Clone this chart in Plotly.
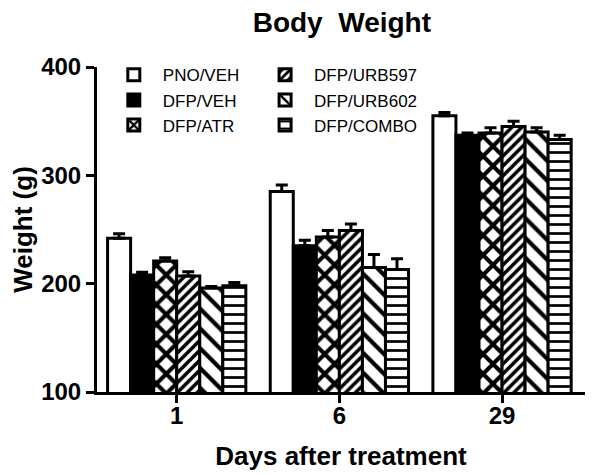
import plotly.graph_objects as go

# dias apos o tratamento
dias = ["1", "6", "29"]

grupos = ["PNO/VEH", "DFP/VEH", "DFP/ATR", "DFP/URB597", "DFP/URB602", "DFP/COMBO"]

pno_veh = [242, 285, 355]
dfp_veh = [208, 235, 337]
dfp_atr = [221, 243, 339]
dfp_urb597 = [207, 249, 345]
dfp_urb602 = [196, 215, 340]
dfp_combo = [198, 213, 333]

erro_pno_veh = [4, 6, 3]
erro_dfp_veh = [2.5, 5, 2]
erro_dfp_atr = [3, 6, 5]
erro_dfp_urb597 = [4, 6, 5]
erro_dfp_urb602 = [1.5, 12, 4]
erro_dfp_combo = [3, 10, 4]

medias = [pno_veh, dfp_veh, dfp_atr, dfp_urb597, dfp_urb602, dfp_combo]
erros = [erro_pno_veh, erro_dfp_veh, erro_dfp_atr, erro_dfp_urb597, erro_dfp_urb602, erro_dfp_combo]


def hachura(forma, tam, solidez):
    return dict(shape=forma, size=tam, solidity=solidez, fgcolor="black", bgcolor="white",
                fgopacity=1, fillmode="overlay")


# estilo de cada barra (cor de fundo, hachura)
estilos = [
    dict(color="white"),
    dict(color="black"),
    dict(color="white", pattern=hachura("x", 14, 0.5)),
    dict(color="white", pattern=hachura("/", 7, 0.5)),
    dict(color="white", pattern=hachura("\\", 14, 0.3)),
    dict(color="white", pattern=hachura("-", 9, 0.3)),
]

FONTE = "Arial, Liberation Sans, sans-serif"
NEGRITO = dict(family=FONTE, color="black", weight="bold")

fig = go.Figure()
for i, (nome, media, erro, estilo) in enumerate(zip(grupos, medias, erros, estilos)):
    fig.add_trace(go.Bar(
        x=dias, y=media, name=nome,
        marker=dict(line=dict(color="black", width=3), **estilo),
        error_y=dict(type="data", array=erro, arrayminus=[0] * len(erro), symmetric=False,
                     color="black", thickness=3, width=6),
        legend="legend" if i < 3 else "legend2",
    ))

legenda = dict(bgcolor="rgba(0,0,0,0)", font=dict(family=FONTE, size=17, color="black"),
               yanchor="top", y=1.03, xanchor="left", itemwidth=48, tracegroupgap=0)

# a pagina tem 8px de margem no body, por isso 592x467
fig.update_layout(
    width=592, height=467,
    margin=dict(l=89, r=15, t=59, b=83, autoexpand=False),
    paper_bgcolor="white", plot_bgcolor="white",
    barmode="group", bargap=0.15, bargroupgap=0,
    title=dict(text="Body  Weight", x=0.564, xanchor="center", y=0.97, yanchor="middle",
               font=dict(size=28, **NEGRITO)),
    showlegend=True,
    legend=dict(x=0.016, **legenda),
    legend2=dict(x=0.326, **legenda),
    xaxis=dict(type="category", range=[-0.49, 2.51], showline=True, linecolor="black", linewidth=3,
               ticks="outside", ticklen=8, tickwidth=3, tickcolor="black", ticklabelstandoff=-8,
               tickfont=dict(size=24, **NEGRITO),
               title=dict(text="Days after treatment", font=dict(size=26, **NEGRITO), standoff=20)),
    yaxis=dict(range=[100, 400], showline=True, linecolor="black", linewidth=3, showgrid=False, zeroline=False,
               tickvals=[100, 200, 300, 400], ticks="outside", ticklen=8, tickwidth=3, tickcolor="black",
               tickfont=dict(size=24, **NEGRITO),
               title=dict(text="Weight (g)", font=dict(size=26, **NEGRITO), standoff=6)),
)

fig.write_html("out.html")
